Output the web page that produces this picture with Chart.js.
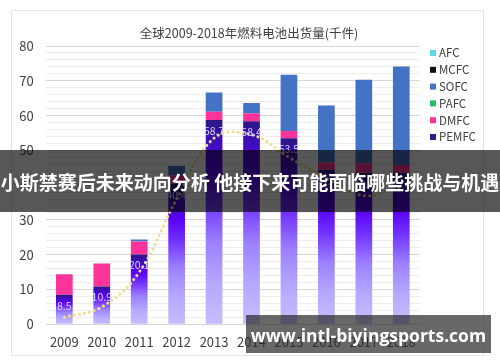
<!DOCTYPE html>
<html>
<head>
<meta charset="utf-8">
<script src="https://cdn.jsdelivr.net/npm/chart.js@4.4.1/dist/chart.umd.min.js"></script>
<style>
  body { margin: 0; background: #fff; }
  #wrap { position: relative; width: 500px; height: 362px; overflow: hidden; background: #fff; }
  .card { position: absolute; left: 11px; top: 10px; width: 471px; height: 344px; border: 1px solid #e4e4e4; }
  canvas { position: absolute; left: 0; top: 0; }
  .banner {
    position: absolute; left: 0; top: 150px; width: 500px; height: 62px;
    background: rgba(0, 0, 0, 0.66); color: #fff;
    font: bold 19px "Noto Sans CJK SC", sans-serif; line-height: 64px;
    text-align: center; white-space: nowrap;
  }
  .wm {
    position: absolute; left: 246px; top: 315px; width: 245px; height: 38px;
    background: rgba(40, 40, 40, 0.7); color: #fff;
    font: bold 17.5px "Open Sans", sans-serif; line-height: 40px;
    text-align: center; white-space: nowrap;
  }
</style>
</head>
<body>
<div id="wrap">
  <div class="card"></div>
  <canvas id="fuelChart" width="500" height="362"></canvas>
  <div class="banner">小斯禁赛后未来动向分析 他接下来可能面临哪些挑战与机遇</div>
  <div class="wm">www.intl-biyingsports.com</div>
</div>
<script>
const chartTitle = "全球2009-2018年燃料电池出货量(千件)";
const years = ["2009", "2010", "2011", "2012", "2013", "2014", "2015", "2016", "2017", "2018"];

// thousand units
const pemfc = [8.5, 10.9, 20.1, 40.4, 58.7, 58.4, 53.5, 44.4, 43.6, 43.6];
const dmfc  = [5.9, 6.6, 3.7, 2.4, 2.4, 2.3, 2.1, 2.2, 2.7, 2.2];
const pafc  = [0, 0, 0, 0, 0, 0, 0, 0, 0, 0];
const sofc  = [0, 0, 0.6, 2.7, 5.5, 2.9, 16.1, 16.3, 24.0, 28.3];
const mcfc  = [0, 0, 0, 0, 0, 0, 0, 0, 0, 0];
const afc   = [0, 0, 0, 0, 0, 0, 0, 0, 0, 0];
const trend = [2.0, 5.0, 15.0, 36.0, 53.5, 54.5, 48.0, 42.0, 37.0, 39.5];

const fontFamily = '"Noto Sans CJK SC", "Noto Sans", sans-serif';

function pemfcFill(c) {
  const chart = c.chart;
  if (!chart.chartArea || c.type !== "data") return "#5a10f0";
  const y = chart.scales.y;
  const top = y.getPixelForValue(c.raw);
  const base = y.getPixelForValue(0);
  if (!isFinite(top) || base - top < 1) return "#5a10f0";
  const g = chart.ctx.createLinearGradient(0, top, 0, base);
  g.addColorStop(0, "#2c1682");
  g.addColorStop(0.1, "#3d0fb8");
  g.addColorStop(0.25, "#5a00f6");
  g.addColorStop(0.4, "#7030ff");
  g.addColorStop(0.6, "#9d80ff");
  g.addColorStop(0.8, "#b6a8ff");
  g.addColorStop(1, "#c6bdff");
  return g;
}

const extras = {
  id: "extras",
  afterDatasetsDraw(chart) {
    const ctx = chart.ctx;
    const meta = chart.getDatasetMeta(0);
    ctx.save();
    ctx.font = "10.5px " + fontFamily;
    ctx.fillStyle = "#dcd4ff";
    ctx.textAlign = "center";
    ctx.textBaseline = "middle";
    meta.data.forEach((bar, i) => {
      ctx.fillText(pemfc[i].toFixed(1), bar.x, bar.y + 11);
    });
    ctx.restore();
  },
  afterDraw(chart) {
    const ctx = chart.ctx;
    const area = chart.chartArea;
    ctx.save();
    ctx.fillStyle = "#404040";
    ctx.textAlign = "center";
    ctx.textBaseline = "middle";
    ctx.font = "12.5px " + fontFamily;
    ctx.fillText(chartTitle, chart.width / 2 - 1, 33);

    // legend, top to bottom in reverse stack order
    const items = chart.data.datasets.filter(d => d.type !== "line").slice().reverse();
    ctx.font = "11.5px " + fontFamily;
    ctx.textAlign = "left";
    items.forEach((d, i) => {
      const x = area.right + 10;
      const y = area.top + 7 + i * 16.8;
      ctx.fillStyle = d.swatch;
      ctx.fillRect(x, y - 3, 6, 6);
      ctx.fillStyle = "#404040";
      ctx.fillText(d.label, x + 9, y);
    });
    ctx.restore();
  }
};

const barOpts = { stack: "s", order: 1, barPercentage: 0.446, categoryPercentage: 1 };

new Chart(document.getElementById("fuelChart"), {
  type: "bar",
  data: {
    labels: years,
    datasets: [
      { label: "PEMFC", data: pemfc, backgroundColor: pemfcFill, swatch: "#3a1690", ...barOpts },
      { label: "DMFC", data: dmfc, backgroundColor: "#ff3399", swatch: "#ff3399", ...barOpts },
      { label: "PAFC", data: pafc, backgroundColor: "#22c064", swatch: "#22c064", ...barOpts },
      { label: "SOFC", data: sofc, backgroundColor: "#4472c4", swatch: "#4472c4", ...barOpts },
      { label: "MCFC", data: mcfc, backgroundColor: "#111111", swatch: "#111111", ...barOpts },
      { label: "AFC", data: afc, backgroundColor: "#5dd8e6", swatch: "#5dd8e6", ...barOpts },
      {
        type: "line",
        label: "trend",
        data: trend,
        order: 0,
        borderColor: "#ece08e",
        borderWidth: 3,
        borderDash: [0.1, 5],
        borderCapStyle: "round",
        pointRadius: 0,
        tension: 0.4,
        fill: false,
      },
    ],
  },
  options: {
    responsive: false,
    animation: false,
    devicePixelRatio: 1,
    layout: { padding: { top: 46, right: 80, left: 0, bottom: 0 } },
    plugins: {
      legend: { display: false },
      title: { display: false },
      tooltip: { enabled: false },
    },
    scales: {
      x: {
        stacked: true,
        grid: { display: false, drawTicks: false },
        border: { display: false },
        ticks: { color: "#404040", font: { family: fontFamily, size: 13 }, padding: 10 },
        afterFit: (s) => { s.height = 37.7; },
      },
      y: {
        stacked: true,
        min: 0,
        max: 80,
        border: { display: false },
        grid: {
          drawTicks: false,
          color: (c) => (c.tick && c.tick.value % 10 === 0 ? "#d6d6d6" : "#ededed"),
        },
        ticks: {
          stepSize: 2,
          autoSkip: false,
          padding: 12,
          color: "#404040",
          font: { family: fontFamily, size: 13 },
          callback: (v) => (v % 10 === 0 ? v : ""),
        },
        afterFit: (s) => { s.width = 45.6; },
      },
    },
  },
  plugins: [extras],
});
</script>
</body>
</html>
